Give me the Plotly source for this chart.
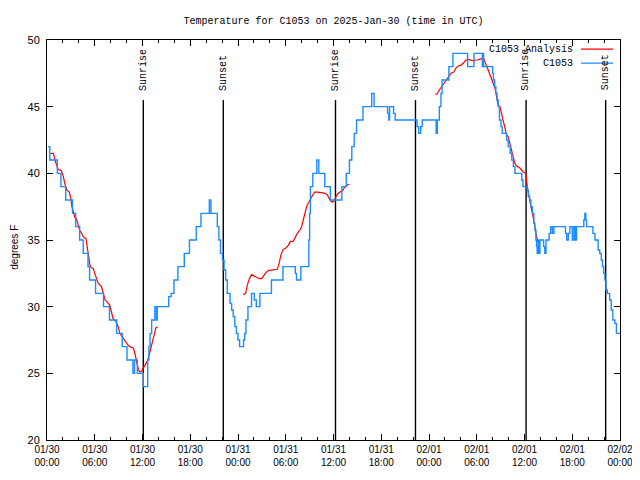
import pandas as pd
import plotly.graph_objects as go

BASE = pd.Timestamp("2025-01-30 00:00")

# Observations (C1053): hours since 2025-01-30 00:00 UTC, temperature (F)
obs_hours = [0.1, 0.35, 1.3, 1.75, 2.35, 3.2, 3.6, 4.1, 4.55, 5.15,
             5.35, 6.1, 7.1, 7.85, 8.75, 9.45, 10.05, 10.8, 11.0, 11.35,
             12.1, 12.65, 12.8, 12.95, 13.15, 13.55, 13.75, 13.85, 15.3, 15.6,
             15.95, 16.45, 17.25, 17.9, 18.75, 19.35, 20.4, 20.6, 21.4, 21.6,
             21.8, 22.05, 22.25, 22.45, 22.65, 23.0, 23.2, 23.4, 23.6, 23.8,
             24.0, 24.2, 24.7, 24.85, 25.0, 25.25, 25.7, 26.05, 26.3, 26.75,
             28.2, 29.65, 31.2, 31.35, 31.9, 32.9, 33.0, 33.1, 33.4, 33.9,
             34.15, 34.9, 35.6, 37.05, 37.6, 38.0, 38.3, 38.6, 38.9, 39.7,
             40.8, 41.1, 42.8, 42.95, 43.05, 43.55, 43.75, 46.5, 46.7, 46.95,
             47.15, 48.9, 49.05, 49.3, 49.5, 49.65, 50.5, 51.0, 52.85, 53.65,
             54.7, 54.78, 54.86, 56.0, 56.1, 56.25, 56.4, 56.55, 56.7, 56.85,
             57.05, 57.2, 57.75, 57.95, 58.2, 58.4, 58.6, 58.8, 59.65, 59.8,
             60.35, 60.47, 60.65, 60.8, 61.0, 61.18, 61.3, 61.43, 61.52, 61.6,
             61.73, 61.8, 61.94, 62.4, 62.55, 62.7, 63.1, 63.3, 63.5, 63.7,
             65.15, 65.3, 65.5, 65.7, 66.0, 66.2, 66.37, 66.54, 67.45, 67.58,
             67.7, 67.8, 68.6, 68.85, 69.25, 69.45, 69.65, 69.8, 69.95, 70.1,
             70.23, 70.4, 70.7, 70.9, 71.1, 71.35, 71.55, 72.0]
obs_temp = [42, 41, 40, 39, 38, 37, 36, 35, 34, 33,
            32, 31, 30, 29, 28, 27, 26, 25, 26, 25,
            24, 26, 27, 28, 29, 30, 29, 30, 30.75, 31,
            32, 33, 34, 35, 36, 37, 38, 37, 36, 35,
            34, 33.5, 32.75, 32, 31, 30.25, 29.75, 29.25, 28.5, 28,
            27.5, 27, 27.5, 28, 29, 30, 31, 30.5, 30, 31,
            32, 33, 32.5, 32, 33, 35, 37, 39, 40, 41,
            40, 39, 38, 39, 40, 41, 42, 43, 44, 45,
            46, 45, 44.5, 44, 45, 44.5, 44, 43.5, 43, 43.5,
            44, 43, 44, 45, 46, 47, 48, 49, 48, 49,
            48, 49, 48, 47.5, 47, 46.5, 46, 45.5, 45, 44,
            43.5, 43, 42.5, 42, 41.5, 41, 40.5, 40, 39.5, 39,
            38.75, 38.25, 38, 37.5, 37, 36.25, 35.75, 35, 34.5, 34,
            35, 34, 35, 34.5, 34, 35, 35.5, 36, 35.5, 36,
            35.5, 35, 35.5, 36, 35, 36, 35, 36, 36.5, 37,
            36.5, 36, 35.5, 35, 34.25, 34, 33.5, 33, 32.5, 32,
            31.25, 31, 30.5, 29.75, 29, 28.75, 28, 28]

# Analysis (C1053 Analysis): three segments
ana1_hours = [0.45, 0.8, 1.0, 1.2, 1.4, 1.8, 2.05, 2.3, 2.5, 2.8,
              3.0, 3.1, 3.3, 3.5, 3.7, 3.9, 4.1, 4.35, 4.55, 4.9,
              5.05, 5.2, 5.4, 5.6, 5.8, 6.0, 6.25, 6.45, 6.85, 7.05,
              7.3, 7.5, 7.9, 8.1, 8.3, 8.65, 8.95, 9.15, 9.6, 9.9,
              10.2, 10.4, 10.85, 11.0, 11.2, 11.35, 11.5, 11.7, 11.9, 12.0,
              12.2, 12.45, 12.6, 12.85, 13.05, 13.25, 13.5, 13.7, 13.9]
ana1_temp = [41.5, 41.5, 41.0, 40.6, 40.3, 40.2, 39.75, 39.1, 38.75, 38.6,
             38.1, 37.6, 37.1, 36.7, 36.6, 36.25, 35.75, 35.5, 35.25, 35.1,
             34.5, 33.75, 33.1, 32.9, 32.9, 32.5, 32.1, 31.75, 31.5, 31.0,
             30.5, 30.4, 30.1, 29.6, 29.1, 28.9, 28.5, 28.0, 27.6, 27.4,
             27.1, 27.0, 26.9, 26.6, 26.1, 25.75, 25.25, 25.1, 25.15, 25.3,
             25.5, 25.75, 25.9, 26.4, 26.9, 27.4, 28.0, 28.45, 28.45]
ana2_hours = [24.66, 24.96, 25.17, 25.42, 25.71, 26.0, 26.34, 26.67, 26.97, 27.18,
              27.51, 27.8, 28.22, 28.64, 28.94, 29.19, 29.4, 29.69, 30.02, 30.32,
              30.61, 30.95, 31.15, 31.45, 31.78, 31.99, 32.2, 32.41, 32.62, 32.83,
              33.04, 33.25, 33.46, 33.67, 34.09, 34.51, 34.92, 35.22, 35.47, 35.68,
              35.89, 36.1, 36.3, 36.52, 36.81, 37.14, 37.44, 37.98]
ana2_temp = [30.9, 31.0, 31.6, 32.1, 32.4, 32.3, 32.2, 32.1, 32.1, 32.3,
             32.55, 32.7, 32.75, 32.8, 32.8, 33.3, 33.9, 34.3, 34.4, 34.6,
             34.9, 34.9, 35.2, 35.5, 35.75, 36.0, 36.5, 37.0, 37.5, 37.75,
             38.0, 38.25, 38.45, 38.6, 38.6, 38.55, 38.5, 38.4, 38.1, 37.9,
             37.85, 37.95, 38.25, 38.45, 38.6, 38.7, 39.0, 39.2]
ana3_hours = [48.74, 49.03, 49.3, 49.58, 50.0, 50.3, 50.54, 50.83, 51.13, 51.38,
              51.67, 51.97, 52.3, 52.64, 52.93, 53.47, 54.06, 54.6, 54.81, 55.06,
              55.23, 55.44, 55.65, 55.86, 56.07, 56.28, 56.49, 56.7, 56.91, 57.12,
              57.33, 57.53, 57.74, 57.95, 58.16, 58.37, 58.58, 58.79, 59.0, 59.42,
              59.84, 60.17, 60.35, 60.6, 60.8, 61.0, 61.18, 61.3, 61.43, 61.6, 61.73]
ana3_temp = [45.95, 45.95, 46.25, 46.5, 46.8, 47.1, 47.3, 47.55, 47.6, 47.9,
             48.05, 48.1, 48.25, 48.5, 48.55, 48.45, 48.5, 48.6, 48.7, 48.2,
             48.05, 47.75, 47.4, 47.0, 46.75, 46.4, 45.75, 45.1, 45.0, 44.4,
             44.0, 43.4, 42.9, 42.75, 42.25, 41.75, 41.25, 40.75, 40.55, 40.4,
             40.1, 40.0, 39.0, 38.0, 37.5, 37.0, 36.5, 36.0, 35.5, 35.0, 34.75]

# Sunrise / sunset times (hours since 2025-01-30 00:00 UTC)
sun_hours = [12.1, 22.15, 36.25, 46.3, 60.2, 70.2]
sun_labels = ["Sunrise", "Sunset", "Sunrise", "Sunset", "Sunrise", "Sunset"]

y_ticks = [20, 25, 30, 35, 40, 45, 50]


def to_time(hours):
    return [BASE + pd.Timedelta(hours=h) for h in hours]


ana_hours = ana1_hours + [None] + ana2_hours + [None] + ana3_hours
ana_temp = ana1_temp + [None] + ana2_temp + [None] + ana3_temp
ana_x = [None if h is None else BASE + pd.Timedelta(hours=h) for h in ana_hours]

RED = "#ff0000"
BLUE = "#1a8cff"
MONO = "Liberation Mono"
SANS = "Liberation Sans"

# The page body adds an 8 px offset; figure sized so the plot box lands
# where the reference has it (x 47..620, y 40..440 of the window).
FIG_W, FIG_H = 632, 472

fig = go.Figure()
fig.add_trace(go.Scatter(x=ana_x, y=ana_temp, mode="lines", name="C1053 Analysis",
                         line=dict(color=RED, width=1.2), connectgaps=False,
                         showlegend=False))
fig.add_trace(go.Scatter(x=to_time(obs_hours), y=obs_temp, mode="lines", name="C1053",
                         line=dict(color=BLUE, width=1.4, shape="hv"),
                         showlegend=False))

# Sunrise / sunset markers
for h, lab in zip(sun_hours, sun_labels):
    t = BASE + pd.Timedelta(hours=h)
    fig.add_shape(type="line", xref="x", yref="y", x0=t, x1=t, y0=20, y1=45.5,
                  line=dict(color="black", width=1.4), layer="below")
    fig.add_annotation(x=t, y=46.05, xref="x", yref="y", text=lab, textangle=-90,
                       showarrow=False, xanchor="center", yanchor="bottom",
                       font=dict(family=MONO, size=10, color="black"))

# Legend (top right, text right-aligned with line sample)
legend_items = [("C1053 Analysis", RED), ("C1053", BLUE)]
for i, (name, col) in enumerate(legend_items):
    ypos = 0.977 - i * 0.035
    fig.add_annotation(x=0.922, y=ypos, xref="paper", yref="paper", text=name,
                       showarrow=False, xanchor="right", yanchor="middle",
                       font=dict(family=MONO, size=10, color="black"))
    fig.add_shape(type="line", xref="paper", yref="paper", x0=0.932, x1=0.988,
                  y0=ypos, y1=ypos, line=dict(color=col, width=1.2))

# Y-axis title
fig.add_annotation(x=-0.058, y=0.4825, xref="paper", yref="paper", text="degrees F",
                   textangle=-90, showarrow=False, xanchor="center", yanchor="middle",
                   font=dict(family=SANS, size=10, color="black"))

fig.update_layout(
    width=FIG_W, height=FIG_H,
    margin=dict(l=39, r=20, t=32, b=40, autoexpand=False),
    paper_bgcolor="white", plot_bgcolor="white",
    title=dict(text="Temperature for C1053 on 2025-Jan-30 (time in UTC)",
               x=0.5, xref="paper", xanchor="center",
               y=1 - 12 / FIG_H, yref="container", yanchor="middle",
               font=dict(family=MONO, size=10, color="black")),
    showlegend=False,
)
fig.update_xaxes(
    type="date", automargin=False,
    range=[BASE, BASE + pd.Timedelta(hours=72)],
    tick0=BASE, dtick=6 * 3600 * 1000,
    tickformat="%m/%d<br>%H:%M",
    ticks="inside", ticklen=6, tickcolor="black", tickwidth=1,
    minor=dict(dtick=2 * 3600 * 1000, ticks="inside", ticklen=3, tickcolor="black"),
    showline=True, linecolor="black", linewidth=1, mirror="ticks",
    showgrid=False, zeroline=False,
    tickfont=dict(family=SANS, size=10, color="black"),
)
fig.update_yaxes(
    automargin=False,
    range=[20, 50], tickvals=y_ticks,
    ticks="inside", ticklen=6, tickcolor="black", tickwidth=1,
    showline=True, linecolor="black", linewidth=1, mirror="ticks",
    showgrid=False, zeroline=False,
    tickfont=dict(family=SANS, size=11, color="black"),
    ticklabelstandoff=4,
)

fig.write_html("out.html")
